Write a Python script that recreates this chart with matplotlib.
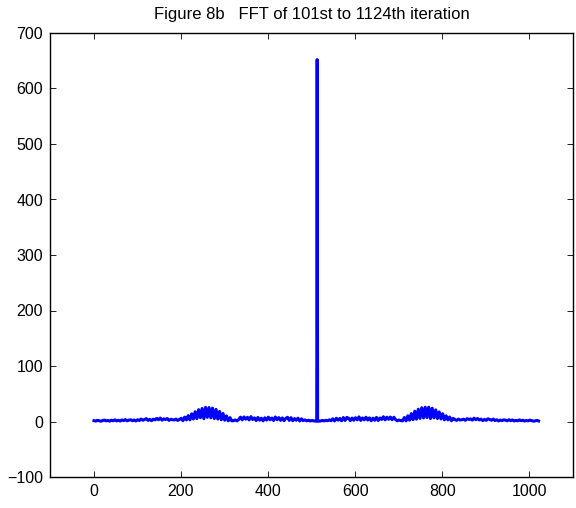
import numpy as np
import matplotlib
matplotlib.use("Agg")
import matplotlib.pyplot as plt

plt.rcParams['font.family'] = ['Liberation Sans', 'DejaVu Sans']

title = "Figure 8b   FFT of 101st to 1124th iteration"

# FFT magnitude sampled every 4th bin (bins 1, 5, ..., 509 and 517, ..., 1021)
first_half = [
    1.5, 0.8, 2.1, 1.2, 0.5, 1.8, 2.6, 1.0, 1.9, 0.7, 2.4, 1.3, 3.0, 1.1, 2.2, 0.9, 2.8, 1.6, 3.4, 1.2, 2.5, 3.1, 1.4, 2.7, 1.0,
    3.2, 1.8, 4.5, 2.2, 3.6, 5.1, 2.0, 3.8, 1.5, 4.2, 2.9, 5.6, 3.1, 6.2, 2.4, 4.8, 3.5, 5.3, 2.1, 4.0, 3.3, 2.6, 4.4, 1.9, 3.7,
    5.8, 1.5, 7.9, 2.8, 10.5, 3.0, 13.8, 4.5, 17.6, 5.2, 21.3, 6.8, 23.5, 5.0, 25.5, 7.4, 25.2, 6.6, 24.1, 5.3,
    21.8, 4.4, 18.2, 3.1, 14.5, 2.3, 10.1, 1.2, 7.0, 1.1,
    1.5, 2.8, 1.2, 3.5, 7.8, 3.0, 8.2, 4.1, 7.5, 2.9, 8.8, 3.6, 6.5, 1.7, 7.3, 2.4, 5.9, 1.2, 6.7, 2.6,
    7.8, 3.1, 6.2, 1.9, 8.1, 3.3, 7.0, 2.1, 6.4, 1.5, 5.7, 7.5, 2.0, 6.9, 1.4, 5.2, 2.3, 6.0, 1.0, 4.8,
    1.6, 2.9, 1.2, 2.3, 0.9, 1.8, 1.1, 0.6,
]
spike_bins = [512, 513, 514]
spike_values = [0.9, 652.0, 0.8]
second_half = [
    0.7, 1.0, 1.9, 1.0, 2.2, 1.3, 3.0, 1.5, 4.9, 1.1, 5.8, 2.4, 5.4, 1.3, 7.1, 1.9, 7.3, 5.9, 1.6, 6.2,
    2.3, 6.8, 3.1, 8.3, 2.0, 6.4, 3.0, 7.6, 2.7, 6.5, 1.4, 6.0, 2.2, 7.4, 1.8, 6.3, 3.7, 8.6, 3.0, 7.7,
    4.0, 8.0, 3.2, 7.6, 3.4, 1.3, 2.7, 1.6,
    1.2, 7.2, 1.1, 10.3, 2.4, 14.2, 3.3, 18.5, 4.2, 22.1, 5.5, 24.8, 6.4, 25.6, 7.1, 25.8, 5.3, 23.9, 6.6, 21.0,
    5.4, 17.3, 4.6, 14.0, 2.9, 10.2, 2.9, 8.1, 1.4, 5.6,
    3.6, 2.0, 4.3, 2.7, 3.2, 4.1, 2.2, 5.1, 3.6, 4.7, 2.5, 6.0, 3.2, 5.4, 2.8, 4.3, 1.6, 3.7, 2.1, 4.9,
    3.5, 2.3, 4.4, 1.7, 3.1,
    1.1, 2.6, 1.5, 3.0, 2.4, 1.3, 3.2, 1.5, 2.7, 1.0, 2.1, 1.2, 2.9, 1.4, 2.3, 0.8, 1.8, 1.1, 2.5, 1.7,
    0.6, 1.1, 2.0, 0.9,
]
first_bins = np.arange(1, 4 * len(first_half) + 1, 4)
second_bins = np.arange(517, 517 + 4 * len(second_half), 4)

bins = np.concatenate([first_bins, spike_bins, second_bins])
magnitude = np.array(first_half + spike_values + second_half)

fig = plt.figure(figsize=(5.76, 5.08), dpi=100)
ax = fig.add_axes([50/576, 1 - 477/508, 523/576, 444/508])
ax.plot(bins, magnitude, color=(0, 0, 1), linewidth=2.2)

ax.set_xlim(-100, 1100)
ax.set_ylim(-100, 700)
ax.set_xticks([0, 200, 400, 600, 800, 1000])
ax.set_yticks([-100, 0, 100, 200, 300, 400, 500, 600, 700])
ax.tick_params(direction='in', top=True, right=True, length=4, width=0.6,
               labelsize=11.5, pad=5)
for s in ax.spines.values():
    s.set_linewidth(1.0)
ax.set_title(title, fontsize=12, pad=10)

fig.savefig("out.png", dpi=100)
